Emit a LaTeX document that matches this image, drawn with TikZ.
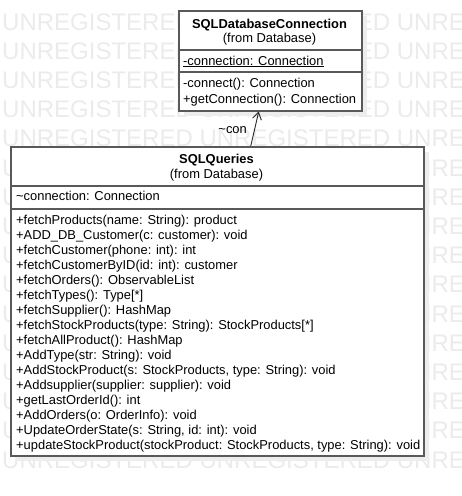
\documentclass[tikz,border=0pt]{standalone}
\usepackage{fontspec}
\setmainfont{Liberation Sans}
\usetikzlibrary{arrows.meta}
\begin{document}
\begin{tikzpicture}[x=1pt,y=-1pt,
  wm/.style={anchor=base west, inner sep=0, text=black!8, font=\fontsize{24}{24}\selectfont},
  box/.style={draw=black!65, line width=1.5pt, fill=white, inner sep=0, anchor=north west},
  shadowbox/.style={fill=black!7, draw=none},
  divider/.style={draw=black!65, line width=1.2pt},
  txt/.style={anchor=base west, inner sep=0, font=\fontsize{12.9}{15}\selectfont},
  ttl/.style={anchor=base, inner sep=0, font=\fontsize{12.9}{15}\selectfont\bfseries},
  sub/.style={anchor=base, inner sep=0, font=\fontsize{12.9}{15}\selectfont},
  assoc/.style={draw=black!85, line width=0.9pt, -{Straight Barb[length=7pt,width=9pt,line width=0.9pt]}},
]
\useasboundingbox (0,0) rectangle (462,496);
% watermark
\foreach \k in {0,...,15}
  \node[wm] (wm\k) at (2, 30+29.2*\k) {UNREGISTERED UNREGISTERED UNRE};
% shadows
\fill[shadowbox] (184,16) rectangle (367,116);
\fill[shadowbox] (16,152) rectangle (429,461);
% boxes
\node[box, minimum width=183pt, minimum height=100pt] (db) at (178,10) {};
\node[box, minimum width=413pt, minimum height=309pt] (q) at (10,146) {};
\draw[divider] (db.west |- 0,50) -- (db.east |- 0,50);
\draw[divider] (db.west |- 0,72) -- (db.east |- 0,72);
\draw[divider] (q.west |- 0,186) -- (q.east |- 0,186);
\draw[divider] (q.west |- 0,209) -- (q.east |- 0,209);
% SQLDatabaseConnection texts
\node[ttl] (dbt) at (269.5,28) {SQLDatabaseConnection};
\node[sub] (dbs) at (269.5,42) {(from Database)};
\node[txt] (dba) at (183,65) {\underline{-connection: Connection}};
\node[txt] (dbm1) at (183,87) {-connect(): Connection};
\node[txt] (dbm2) at (183,103) {+getConnection(): Connection};
% SQLQueries texts
\node[ttl] (qt) at (216.5,163) {SQLQueries};
\node[sub] (qs) at (216.5,178.5) {(from Database)};
\node[txt] (qa) at (16,200.5) {\textasciitilde connection: Connection};
\foreach \m [count=\i from 0] in {
  +fetchProducts(name: String): product,
  +ADD\_DB\_Customer(c: customer): void,
  +fetchCustomer(phone: int): int,
  +fetchCustomerByID(id: int): customer,
  +fetchOrders(): ObservableList,
  +fetchTypes(): Type[*],
  +fetchSupplier(): HashMap,
  +fetchStockProducts(type: String): StockProducts[*],
  +fetchAllProduct(): HashMap,
  +AddType(str: String): void,
  {+AddStockProduct(s: StockProducts, type: String): void},
  +Addsupplier(supplier: supplier): void,
  +getLastOrderId(): int,
  +AddOrders(o: OrderInfo): void,
  {+UpdateOrderState(s: String, id: int): void},
  {+updateStockProduct(stockProduct: StockProducts, type: String): void}}
  \node[txt] (qm\i) at (16,224+15*\i) {\m};
% association
\draw[assoc] ([xshift=33.5pt]q.north) -- ([xshift=-11.5pt]db.south);
\node[sub, anchor=base east] (lbl) at (247,133) {\textasciitilde con};
\end{tikzpicture}
\end{document}
